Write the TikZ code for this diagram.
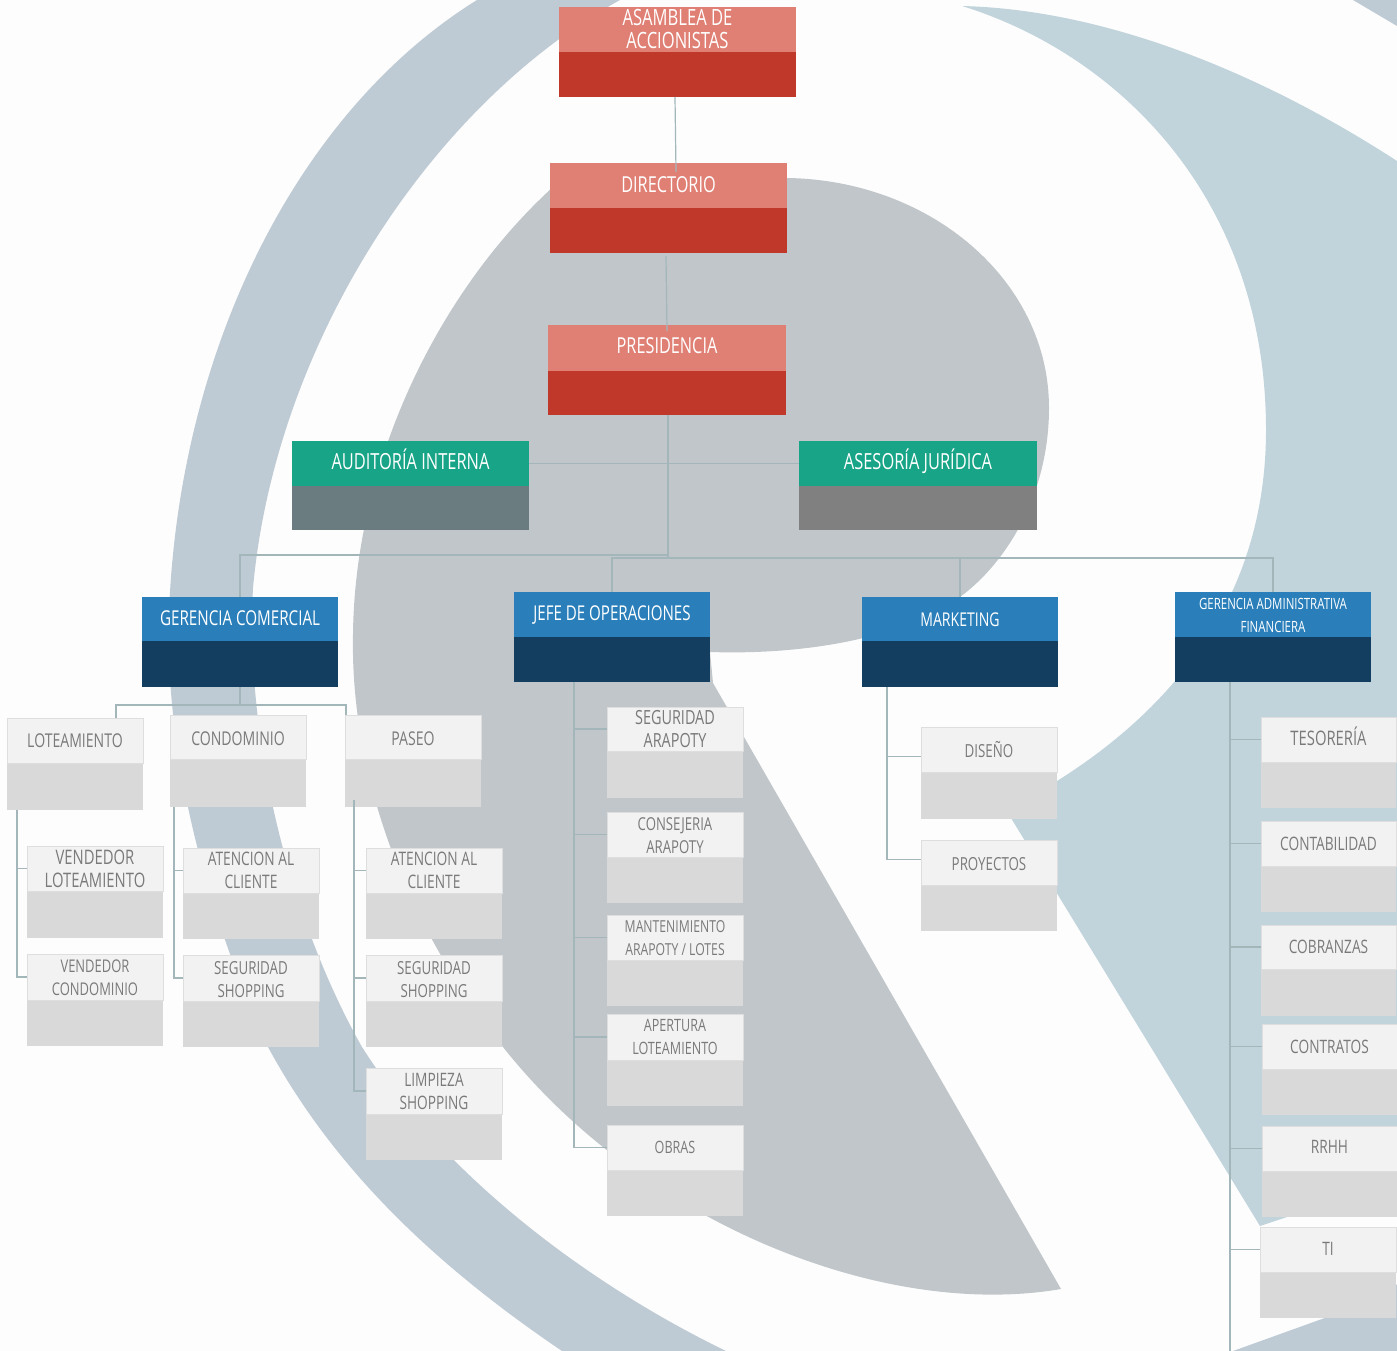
\documentclass[tikz,border=0pt]{standalone}
\usepackage{fontspec}
\setmainfont[FakeStretch=0.74]{Open Sans}
\definecolor{pageWhite}{HTML}{FDFDFD}
\definecolor{logoBand}{HTML}{BFCBD4}
\definecolor{logoPale}{HTML}{C1D4DC}
\definecolor{logoGray}{HTML}{C0C6C9}
\definecolor{linkGray}{HTML}{A3B7BB}
\definecolor{boardTop}{HTML}{E08075}
\definecolor{boardLow}{HTML}{BF3829}
\definecolor{auditTop}{HTML}{18A487}
\definecolor{auditLow}{HTML}{6B7C80}
\definecolor{legalLow}{HTML}{808080}
\definecolor{mgmtTop}{HTML}{2A7FBA}
\definecolor{mgmtLow}{HTML}{143E5F}
\definecolor{unitTop}{HTML}{F2F2F2}
\definecolor{unitLow}{HTML}{D9D9D9}
\definecolor{unitEdge}{HTML}{DEDEDE}
\definecolor{unitText}{HTML}{7A7A7A}
\newcommand{\boxfont}[1]{\fontsize{#1}{23}\selectfont}
\tikzset{
    bare/.style={
        rectangle,
        anchor=north west,
        draw=none,
        inner sep=0pt,
        outer sep=0pt},
    board head/.style={bare, fill=boardTop},
    board body/.style={bare, fill=boardLow},
    board text/.style={text=white},
    audit head/.style={bare, fill=auditTop},
    audit body/.style={bare, fill=auditLow},
    audit text/.style={text=white},
    legal head/.style={bare, fill=auditTop},
    legal body/.style={bare, fill=legalLow},
    legal text/.style={text=white},
    mgmt head/.style={bare, fill=mgmtTop},
    mgmt body/.style={bare, fill=mgmtLow},
    mgmt text/.style={text=white},
    unit head/.style={
        bare,
        fill=unitTop,
        draw=unitEdge,
        line width=1pt},
    unit body/.style={bare, fill=unitLow},
    unit text/.style={text=unitText},
    link/.style={
        draw=linkGray,
        line width=1.2pt,
        line join=miter}
}

\begin{document}
\begin{tikzpicture}[x=1pt, y=-1pt]
\useasboundingbox (0,0) rectangle (1397,1351);
\clip (0,0) rectangle (1397,1351);
\fill [pageWhite] (0,0) rectangle (1397,1351);

% logo behind the chart
\fill [logoPale]
    (962,6) .. controls (1120,10) and (1280,85) .. (1397,161)
    -- (1425,180) -- (1425,1165) -- (1287,1217) -- (1260,1226) -- (1000,800) -- (1057,781)
    .. controls (1170,710) and (1266,600) .. (1266,430)
    .. controls (1266,200) and (1120,55) .. (962,6) -- cycle;
\fill [logoBand]
    (477,0) .. controls (300,110) and (185,340) .. (170,592)
    .. controls (160,740) and (205,910) .. (268,1047)
    .. controls (340,1180) and (450,1275) .. (562,1351)
    -- (726,1351)
    .. controls (580,1280) and (440,1170) .. (362,1047)
    .. controls (290,920) and (245,740) .. (253,588)
    .. controls (275,345) and (430,105) .. (620,0) -- cycle;
\fill [logoBand] (1353,0) -- (1397,26) -- (1397,0) -- cycle;
\fill [logoBand] (1233,1351) -- (1333,1315) -- (1400,1283) -- (1400,1351) -- cycle;
\fill [logoGray]
    (553,187) .. controls (440,290) and (355,460) .. (353,634)
    .. controls (350,780) and (410,930) .. (503,1047)
    .. controls (640,1220) and (880,1320) .. (1061,1289)
    -- (713,683) -- (710,652)
    .. controls (800,655) and (900,640) .. (960,597)
    .. controls (1010,560) and (1049,490) .. (1049,408)
    .. controls (1049,280) and (930,180) .. (787,178)
    -- (700,172) -- cycle;

% name/left/right/top/middle/bottom/kind/size/text shift/text
\foreach \name/\xa/\xb/\ya/\ym/\yb/\kind/\fs/\dy/\txt in {
    asm/559/796/7/52/97/board/22.4/0/{ASAMBLEA DE\\ACCIONISTAS},
    dir/550/787/163/208/253/board/22/1/{DIRECTORIO},
    pres/548/786/325/371/415/board/22/2/{PRESIDENCIA},
    aud/292/529/441/486/530/audit/22.2/2/{AUDITOR\smash{Í}A INTERNA},
    ase/799/1037/441/486/530/legal/22.2/0/{ASESOR\smash{Í}A JUR\smash{Í}DICA},
    gcom/142/338/597/641/687/mgmt/20.5/1/{GERENCIA COMERCIAL},
    jefe/514/710/592/637/682/mgmt/20.4/-1/{JEFE DE OPERACIONES},
    mkt/862/1058/597/641/687/mgmt/19/-1/{MARKETING},
    gaf/1175/1371/592/637/682/mgmt/15.5/-1/{GERENCIA ADMINISTRATIVA\\FINANCIERA},
    lote/7/143/718/763/810/unit/19/0/{LOTEAMIENTO},
    cond/170/306/715/759/807/unit/19/-2/{CONDOMINIO},
    pas/345/481/715/759/807/unit/19/-2/{PASEO},
    vlote/27/163/846/891/938/unit/20/0/{VENDEDOR\\LOTEAMIENTO},
    vcond/27/163/954/1000/1046/unit/17.5/-1/{VENDEDOR\\CONDOMINIO},
    aten/183/319/848/893/939/unit/18.6/0/{ATENCION AL\\CLIENTE},
    segu/183/319/955/1001/1047/unit/18/-2/{SEGURIDAD\\SHOPPING},
    atenp/366/502/848/893/939/unit/18.6/0/{ATENCION AL\\CLIENTE},
    segup/366/502/955/1001/1047/unit/18/-2/{SEGURIDAD\\SHOPPING},
    limp/366/502/1068/1114/1160/unit/18.5/0/{LIMPIEZA\\SHOPPING},
    sara/607/743/707/751/798/unit/19.5/0/{SEGURIDAD\\ARAPOTY},
    cons/607/743/812/857/903/unit/17.8/-1/{CONSEJERIA\\ARAPOTY},
    mant/607/743/915/960/1006/unit/16.5/-1/{MANTENIMIENTO\\ARAPOTY / LOTES},
    aper/607/743/1014/1060/1106/unit/17/0/{APERTURA\\LOTEAMIENTO},
    obr/607/743/1125/1170/1216/unit/17/0/{OBRAS},
    dis/921/1057/727/772/819/unit/18/-2/{DISE\smash{Ñ}O},
    proy/921/1057/840/885/931/unit/18/-2/{PROYECTOS},
    tes/1261/1396/717/762/808/unit/20/1/{TESORER\smash{Í}A},
    cont/1261/1396/821/866/912/unit/18.5/0/{CONTABILIDAD},
    cob/1261/1396/925/969/1016/unit/18.5/0/{COBRANZAS},
    ctr/1262/1397/1024/1069/1115/unit/18.5/0/{CONTRATOS},
    rrhh/1262/1397/1126/1171/1217/unit/18.5/2/{RRHH},
    ti/1260/1396/1227/1272/1318/unit/18.5/1/{TI}}{
    \node [\kind\space body, minimum width={(\xb-\xa)*1pt}, minimum height={(\yb-\ym)*1pt}] (\name-b) at (\xa,\ym) {};
    \node [\kind\space head, minimum width={(\xb-\xa)*1pt}, minimum height={(\ym-\ya)*1pt}] (\name) at (\xa,\ya) {};
    \node [\kind\space text, align=center, inner sep=0pt, yshift=\dy pt, font=\boxfont{\fs}] (\name-t) at (\name.center) {\txt};
}

\coordinate (asm-out) at (675,97);
\coordinate (dir-in) at (676,172);
\coordinate (dir-out) at (666,256);
\coordinate (pres-in) at (667,331);
\coordinate (pres-out) at (668,415);
\coordinate (pres-j) at (668,558);
\coordinate (pres-jl) at (668,555);
\coordinate (gcom-bus) at (240,705);
\coordinate (lote-in) at (116,718);
\coordinate (pas-in) at (346,715);
\coordinate (lote-out) at (17,810);
\coordinate (cond-out) at (174,807);
\coordinate (pas-out) at (354,800);
\coordinate (jefe-out) at (574,682);
\coordinate (mkt-out) at (887,687);
\coordinate (gaf-out) at (1230,682);
\coordinate (gaf-end) at (1230,1351);

\draw [link] (asm-out) -- (dir-in);
\draw [link] (dir-out) -- (pres-in);
\draw [link] (pres-out) -- (pres-j);
\draw [link] (aud.east) -- (ase.west);
\draw [link] (pres-jl) -| (gcom.north);
\draw [link] (jefe.north) |- (pres-j);
\draw [link] (pres-j) -| (gaf.north);
\draw [link] (mkt.north) -- (mkt.north |- pres-j);
\draw [link] (gcom-b.south) -- (gcom-bus);
\draw [link] (lote-in) |- (gcom-bus) -| (pas-in);
\foreach \c in {vlote, vcond}
    \draw [link] (lote-out) |- (\c.west);
\foreach \c in {aten, segu}
    \draw [link] (cond-out) |- (\c.west);
\foreach \c in {atenp, segup, limp}
    \draw [link] (pas-out) |- (\c.west);
\foreach \c in {sara, cons, mant, aper, obr}
    \draw [link] (jefe-out) |- (\c.west);
\draw [link] (mkt-out) |- ([yshift=-7pt]dis.west);
\draw [link] (mkt-out) |- ([yshift=3pt]proy.west);
\draw [link] (gaf-out) -- (gaf-end);
\foreach \c in {tes, cont, cob, ctr, rrhh, ti}
    \draw [link] (gaf-out) |- (\c.west);

\end{tikzpicture}
\end{document}
